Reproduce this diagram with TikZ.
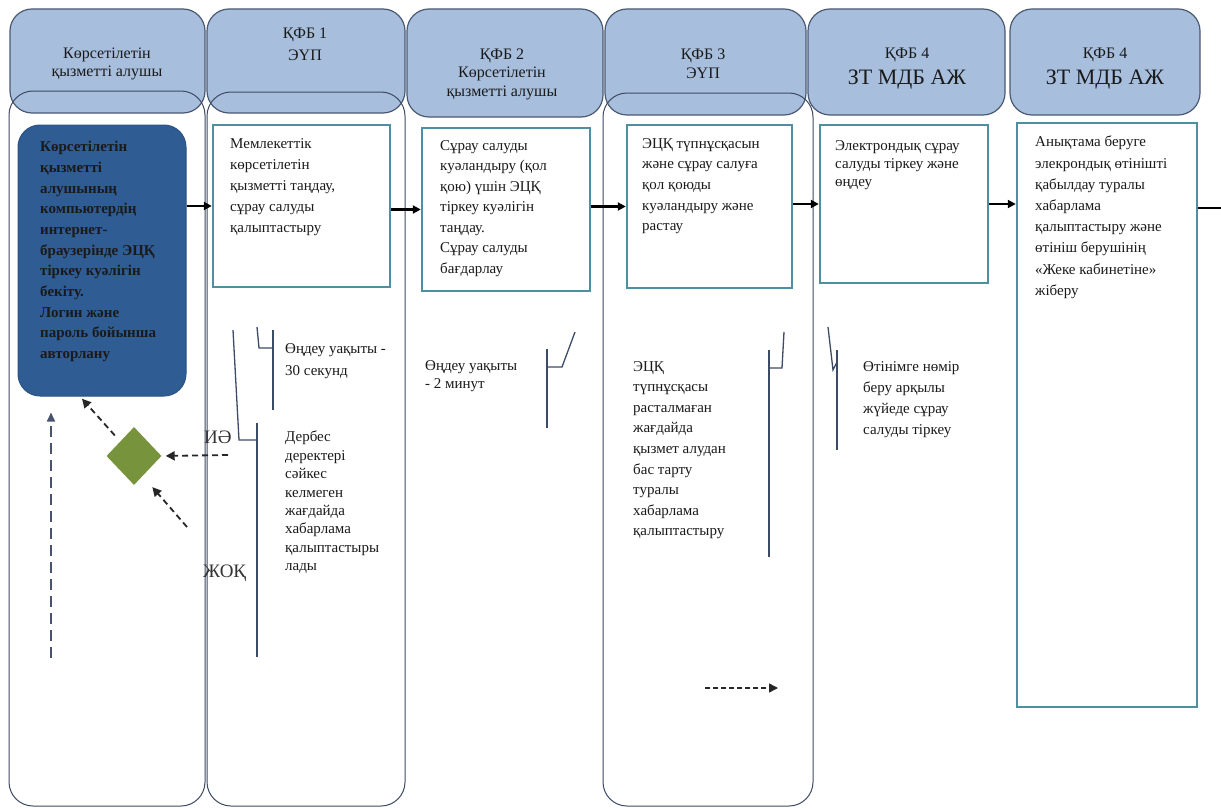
\documentclass[tikz,border=0pt]{standalone}
\usepackage{fontspec}
\setmainfont{Liberation Serif}
\usetikzlibrary{shapes.geometric,arrows.meta,calc}

\definecolor{hdrfill}{HTML}{A7BEDD}
\definecolor{hdrline}{HTML}{4A5A72}
\definecolor{laneline}{HTML}{3E4B63}
\definecolor{boxline}{HTML}{4F8FA2}
\definecolor{darkbox}{HTML}{2F5C92}
\definecolor{decgreen}{HTML}{77933C}
\definecolor{calline}{HTML}{3D4C66}
\definecolor{txt}{HTML}{1A1A1A}
\definecolor{slate}{HTML}{48546E}

\begin{document}
\begin{tikzpicture}[x=1pt,y=-1pt,
  header/.style={draw=hdrline, fill=hdrfill, line width=1.2pt, rounded corners=22pt, inner sep=0},
  lane/.style={draw=laneline, line width=1pt, rounded corners=24pt, inner sep=0},
  procbox/.style={draw=boxline, line width=2.4pt, fill=white, inner sep=0},
  startbox/.style={draw=darkbox!90!black, fill=darkbox, line width=1pt, rounded corners=22pt, inner sep=0},
  decision/.style={diamond, fill=decgreen, inner sep=0, minimum width=55pt, minimum height=58pt},
  flow/.style={draw=black, line width=2.5pt, -{Triangle[length=8pt,width=8pt]}},
  dasharrow/.style={draw=black!85, line width=1.8pt, dash pattern=on 6pt off 4pt, -{Triangle[length=9pt,width=9pt]}},
  backarrow/.style={draw=slate, line width=1.6pt, dash pattern=on 11pt off 6pt, -{Triangle[length=9pt,width=8pt]}},
  calloutline/.style={draw=calline, line width=1.3pt},
  bodytext/.style={anchor=north west, inner sep=0, align=left, text=txt},
  hdrtext/.style={align=center, inner sep=0, text=txt}
]
\useasboundingbox (0,0) rectangle (1221,808);
\fill[white] (0,0) rectangle (1221,808);

% column headers
\node[header, minimum width=195pt, minimum height=104pt] (h1) at (107.5,61) {};
\node[header, minimum width=198pt, minimum height=104pt] (h2) at (306,61) {};
\node[header, minimum width=196pt, minimum height=108pt] (h3) at (505,63) {};
\node[header, minimum width=201pt, minimum height=106pt] (h4) at (705.5,62) {};
\node[header, minimum width=197pt, minimum height=106pt] (h5) at (906.5,62) {};
\node[header, minimum width=190pt, minimum height=106pt] (h6) at (1105,62) {};

\node[hdrtext, font=\fontsize{16}{18.5}\selectfont] (h1t) at (107,64) {Көрсетілетін\\қызметті алушы};
\node[hdrtext, font=\fontsize{16}{22}\selectfont] (h2t) at (305,44) {ҚФБ 1\\ЭҮП};
\node[hdrtext, font=\fontsize{16}{18.5}\selectfont] (h3t) at (502,74) {ҚФБ 2\\Көрсетілетін\\қызметті алушы};
\node[hdrtext, font=\fontsize{16}{18.5}\selectfont] (h4t) at (703,64) {ҚФБ 3\\ЭҮП};
\node[hdrtext, font=\fontsize{16}{18}\selectfont] (h5a) at (907,55) {ҚФБ 4};
\node[hdrtext, font=\fontsize{22}{24}\selectfont] (h5b) at (907,80) {ЗТ МДБ АЖ};
\node[hdrtext, font=\fontsize{16}{18}\selectfont] (h6a) at (1105,55) {ҚФБ 4};
\node[hdrtext, font=\fontsize{22}{24}\selectfont] (h6b) at (1105,80) {ЗТ МДБ АЖ};

% swimlanes
\node[lane, minimum width=196pt, minimum height=715pt] (l1) at (107,448.5) {};
\node[lane, minimum width=198pt, minimum height=714pt] (l2) at (306,449) {};
\node[lane, minimum width=210pt, minimum height=713pt] (l4) at (708,449.5) {};

% process steps
\node[startbox, minimum width=168pt, minimum height=271pt] (A) at (102,260.5) {};
\node[procbox, minimum width=177pt, minimum height=162pt] (B) at (301.5,206) {};
\node[procbox, minimum width=168pt, minimum height=163pt] (C) at (506,209.5) {};
\node[procbox, minimum width=165pt, minimum height=163pt] (D) at (709.5,206.5) {};
\node[procbox, minimum width=168pt, minimum height=158pt] (E) at (904,204) {};
\node[procbox, minimum width=180pt, minimum height=584pt] (F) at (1107,415) {};

\node[bodytext, font=\bfseries\fontsize{15}{20.7}\selectfont] (At) at (40,141)
  {Көрсетілетін\\қызметті\\алушының\\компьютердің\\интернет-\\браузерінде ЭЦҚ\\тіркеу куәлігін\\бекіту.\\Логин және\\пароль бойынша\\авторлану};
\node[bodytext, font=\fontsize{15}{21}\selectfont] (Bt) at (230,138)
  {Мемлекеттік\\көрсетілетін\\қызметті таңдау,\\сұрау салуды\\қалыптастыру};
\node[bodytext, font=\fontsize{15}{20.5}\selectfont] (Ct) at (440,140)
  {Сұрау салуды\\куәландыру (қол\\қою) үшін ЭЦҚ\\тіркеу куәлігін\\таңдау.\\Сұрау салуды\\бағдарлау};
\node[bodytext, font=\fontsize{15}{20.7}\selectfont] (Dt) at (642,138)
  {ЭЦҚ түпнұсқасын\\және сұрау салуға\\қол қоюды\\куәландыру және\\растау};
\node[bodytext, font=\fontsize{15}{18}\selectfont] (Et) at (835,140)
  {Электрондық сұрау\\салуды тіркеу және\\өңдеу};
\node[bodytext, font=\fontsize{15}{21.2}\selectfont] (Ft) at (1035,136)
  {Анықтама беруге\\элекрондық өтінішті\\қабылдау туралы\\хабарлама\\қалыптастыру және\\өтініш берушінің\\«Жеке кабинетіне»\\жіберу};

% main flow
\coordinate (out) at (1221,208);
\draw[flow] (A.east |- B.west) -- (B.west);
\draw[flow] (B.east |- C.west) -- (C.west);
\draw[flow] (C.east |- D.west) -- (D.west);
\draw[flow] (D.east |- E.west) -- (E.west);
\draw[flow] (E.east) -- (E.east -| F.west);
\draw[draw=black, line width=2.5pt] (F.east |- out) -- (out);

% decision and returns
\node[decision] (dec) at (134,456) {};
\coordinate (dIn) at (228,455);
\coordinate (dLow) at (187,527);
\coordinate (vBot) at (51,658);
\draw[dasharrow, shorten >=4pt] (dIn) -- (dec.east);
\draw[dasharrow, shorten <=8pt, shorten >=3pt] (dec.north west) -- (A.south -| 80,0);
\draw[dasharrow] (dLow) -- ([shift={(4.5,16.5)}]dec.south east);
\draw[backarrow, shorten >=16pt] (vBot) -- (A.south -| vBot);

\node[anchor=west, inner sep=0, text=black!80, font=\fontsize{19}{21}\selectfont] (yes) at (204,437) {ИӘ};
\node[anchor=west, inner sep=0, text=black!80, font=\fontsize{19}{21}\selectfont] (no) at (203,573) {ЖОҚ};

% callouts
\draw[calloutline] (273,330) -- (273,410);
\draw[calloutline] (257,327) -- (259,348) -- (273,348);
\node[bodytext, font=\fontsize{15}{22}\selectfont] (c1) at (285,343) {Өңдеу уақыты -\\30 секунд};

\draw[calloutline] (257,423) -- (257,657);
\draw[calloutline] (233,330) -- (239,440) -- (257,440);
\node[bodytext, font=\fontsize{15}{18.4}\selectfont] (c2) at (285,431)
  {Дербес\\деректері\\сәйкес\\келмеген\\жағдайда\\хабарлама\\қалыптастыры\\лады};

\draw[calloutline] (547,349) -- (547,428);
\draw[calloutline] (547,367) -- (562,367) -- (575,332);
\node[bodytext, font=\fontsize{15}{18}\selectfont] (c3) at (425,360) {Өңдеу уақыты\\- 2 минут};

\draw[calloutline] (769,350) -- (769,557);
\draw[calloutline] (769,368) -- (782,368) -- (784,332);
\node[bodytext, font=\fontsize{15}{20.6}\selectfont] (c4) at (633,361)
  {ЭЦҚ\\түпнұсқасы\\расталмаған\\жағдайда\\қызмет алудан\\бас тарту\\туралы\\хабарлама\\қалыптастыру};

\draw[calloutline] (837,350) -- (837,450);
\draw[calloutline] (828,327) -- (833,370) -- (837,362);
\node[bodytext, font=\fontsize{15}{21}\selectfont] (c5) at (863,361)
  {Өтінімге нөмір\\беру арқылы\\жүйеде сұрау\\салуды тіркеу};

% dashed pointer at the bottom of the third lane
\coordinate (pS) at (705,688);
\coordinate (pE) at (778,688);
\draw[dasharrow, line width=1.5pt, dash pattern=on 5pt off 3pt] (pS) -- (pE);
\end{tikzpicture}
\end{document}
